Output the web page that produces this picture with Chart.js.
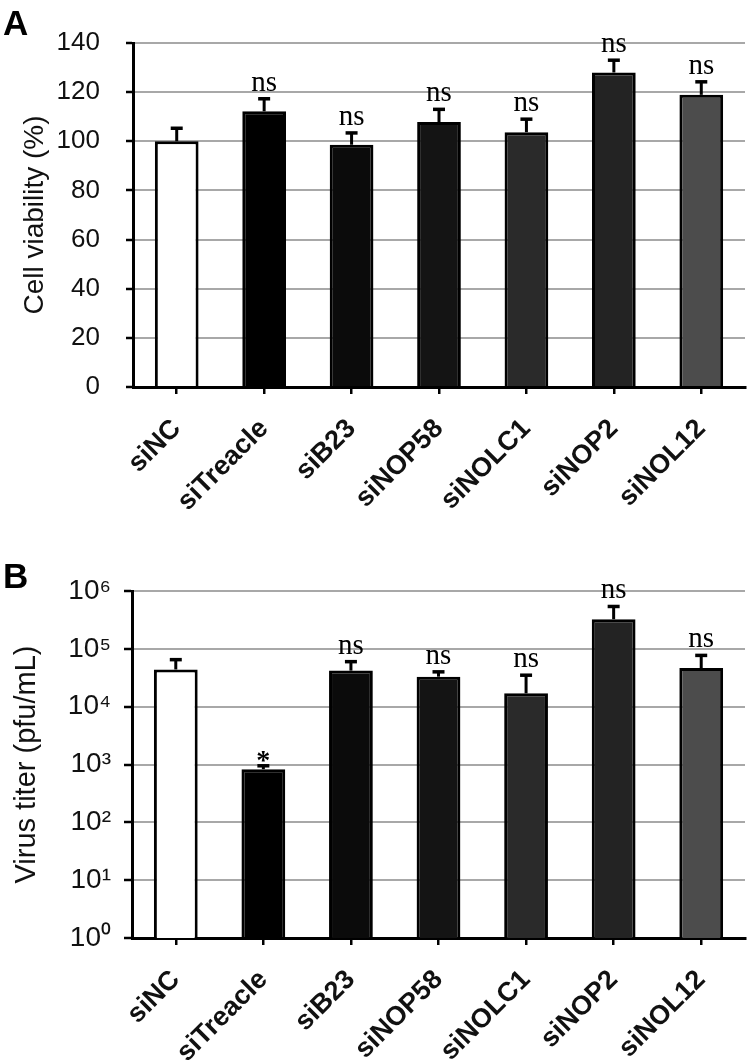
<!DOCTYPE html>
<html>
<head>
<meta charset="utf-8">
<script src="https://cdn.jsdelivr.net/npm/chart.js@4"></script>
<style>
  body { margin: 0; background: #fff; }
  #page { position: relative; width: 750px; height: 1063px; overflow: hidden; background: #fff; }
  .panel { position: absolute; left: 0; }
  .letter { position: absolute; left: 3px; font: bold 35px "Liberation Sans", Arial, sans-serif; line-height: 35px; color: #000; }
</style>
</head>
<body>
<div id="page">
  <div class="panel" style="top:0px"><canvas id="viabilityChart" width="750" height="560"></canvas></div>
  <div class="panel" style="top:540px"><canvas id="titerChart" width="750" height="523"></canvas></div>
  <div class="letter" style="top:5px">A</div>
  <div class="letter" style="top:558px">B</div>
</div>
<script>
var categories = ["siNC", "siTreacle", "siB23", "siNOP58", "siNOLC1", "siNOP2", "siNOL12"];

// panel A: cell viability (%)
var viability = [100, 112.2, 98.6, 107.8, 103.7, 128, 118.9];
var viabilitySD = [5.3, 5.1, 4.8, 5.2, 5.3, 5.0, 5.3];
var viabilitySig = ["", "ns", "ns", "ns", "ns", "ns", "ns"];

// panel B: virus titer (pfu/mL)
var titer = [44000, 830, 42000, 33000, 17000, 325000, 46500];
var titerSD = [21000, 120, 18000, 7000, 18000, 215000, 30500];
var titerSig = ["", "*", "ns", "ns", "ns", "ns", "ns"];
var titerTicks = [1, 10, 100, 1000, 10000, 100000, 1000000];

var barColors = ['#ffffff', '#000000', '#0b0b0b', '#141414', '#2a2a2a', '#232323', '#4c4c4c'];
var supDigits = ['\u2070', '\u00b9', '\u00b2', '\u00b3', '\u2074', '\u2075', '\u2076'];

var errorBarPlugin = {
  id: 'errorBars',
  afterDatasetsDraw: function(chart, args, opts) {
    var ctx = chart.ctx;
    var yScale = chart.scales.y;
    var meta = chart.getDatasetMeta(0);
    var values = chart.data.datasets[0].data;
    ctx.save();
    meta.data.forEach(function(bar, i) {
      var top = yScale.getPixelForValue(values[i] + opts.errors[i]);
      ctx.strokeStyle = '#000';
      ctx.lineWidth = 3;
      ctx.beginPath();
      ctx.moveTo(bar.x, bar.y);
      ctx.lineTo(bar.x, top);
      ctx.stroke();
      ctx.lineWidth = 3.5;
      ctx.beginPath();
      ctx.moveTo(bar.x - 6, top);
      ctx.lineTo(bar.x + 6, top);
      ctx.stroke();
      var mark = opts.marks[i];
      if (mark) {
        ctx.fillStyle = '#000';
        ctx.textAlign = 'center';
        ctx.textBaseline = 'alphabetic';
        if (mark === '*') {
          ctx.font = 'bold 28px "Liberation Serif", "Times New Roman", serif';
          ctx.fillText(mark, bar.x, top + 3);
        } else {
          ctx.font = '29px "Liberation Serif", "Times New Roman", serif';
          ctx.fillText(mark, bar.x, top - 8);
        }
      }
    });
    ctx.restore();
  }
};

var xAxisConfig = function(height) {
  return {
    offset: true,
    grid: { display: true, drawOnChartArea: false, drawTicks: true, tickLength: 7, offset: false, color: '#000', lineWidth: 2.5 },
    border: { display: true, color: '#000', width: 3 },
    ticks: {
      autoSkip: false, maxRotation: 45, minRotation: 45, padding: 19, color: '#111',
      font: { family: '"Liberation Sans", Arial, sans-serif', size: 27, weight: 'bold' }
    },
    afterFit: function(scale) { scale.height = height; }
  };
};

var viabilityCanvas = document.getElementById("viabilityChart");
var viabilityConfig = {
  type: 'bar',
  data: {
    labels: categories,
    datasets: [{
      data: viability,
      backgroundColor: barColors,
      borderColor: '#000',
      borderWidth: 3,
      barPercentage: 0.5,
      categoryPercentage: 1.0
    }]
  },
  options: {
    responsive: false,
    animation: false,
    layout: { padding: { left: 6, top: 43, right: 5, bottom: 0 } },
    plugins: {
      legend: { display: false },
      tooltip: { enabled: false },
      errorBars: { errors: viabilitySD, marks: viabilitySig }
    },
    scales: {
      x: xAxisConfig(173),
      y: {
        min: 0, max: 140,
        grid: { color: '#a8a8a8', lineWidth: 2, tickColor: '#000', tickWidth: 2.5, tickLength: 7 },
        border: { display: true, color: '#000', width: 3 },
        ticks: {
          stepSize: 20, padding: 26, color: '#111',
          font: { family: '"Liberation Sans", Arial, sans-serif', size: 26 }
        },
        title: {
          display: true, text: 'Cell viability (%)', color: '#111',
          font: { family: '"Liberation Sans", Arial, sans-serif', size: 28 },
          padding: { top: 12, bottom: 0 }
        },
        afterFit: function(scale) { scale.width = 127; }
      }
    }
  },
  plugins: [errorBarPlugin]
};
var viabilityChartObj = new Chart(viabilityCanvas, viabilityConfig);

var titerCanvas = document.getElementById("titerChart");
var titerConfig = {
  type: 'bar',
  data: {
    labels: categories,
    datasets: [{
      data: titer,
      backgroundColor: barColors,
      borderColor: '#000',
      borderWidth: 3,
      barPercentage: 0.5,
      categoryPercentage: 1.0
    }]
  },
  options: {
    responsive: false,
    animation: false,
    layout: { padding: { left: 6, top: 51, right: 5, bottom: 0 } },
    plugins: {
      legend: { display: false },
      tooltip: { enabled: false },
      errorBars: { errors: titerSD, marks: titerSig }
    },
    scales: {
      x: xAxisConfig(125),
      y: {
        type: 'logarithmic',
        min: 1, max: 1000000,
        afterBuildTicks: function(scale) {
          scale.ticks = titerTicks.map(function(v) { return { value: v }; });
        },
        grid: { color: '#a8a8a8', lineWidth: 2, tickColor: '#000', tickWidth: 2.5, tickLength: 8 },
        border: { display: true, color: '#000', width: 3 },
        ticks: {
          padding: 13, color: '#111',
          font: { family: '"Liberation Sans", Arial, sans-serif', size: 28 },
          callback: function(value) {
            return '10' + supDigits[Math.round(Math.log10(value))];
          }
        },
        title: {
          display: true, text: 'Virus titer (pfu/mL)', color: '#111',
          font: { family: '"Liberation Sans", Arial, sans-serif', size: 29 },
          padding: { top: 4, bottom: 0 }
        },
        afterFit: function(scale) { scale.width = 126; }
      }
    }
  },
  plugins: [errorBarPlugin]
};
var titerChartObj = new Chart(titerCanvas, titerConfig);
</script>
</body>
</html>
